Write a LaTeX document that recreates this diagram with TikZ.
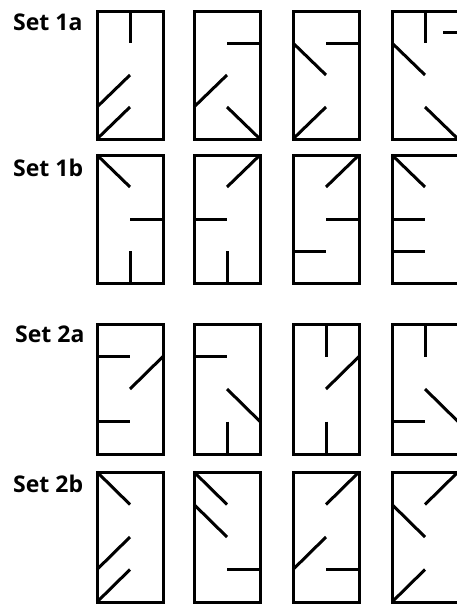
\documentclass[tikz,border=0pt]{standalone}
\usepackage{fontspec}
\setmainfont{Open Sans}
\usetikzlibrary{positioning}

% one floor plan: left edge, top edge, unit height, interior walls
\newcommand{\plan}[4]{%
  \begin{scope}[shift={(#1,#2)},x=33pt,y=-#3pt]
    \draw[wall] (0,0) rectangle (2,4);
    \foreach \xa/\ya/\xb/\yb in {#4} \draw[wall] (\xa,\ya) -- (\xb,\yb);
  \end{scope}}

\begin{document}
\begin{tikzpicture}[
  x=1pt,y=-1pt,
  wall/.style={draw=black,line width=3pt,line join=miter},
  setlabel/.style={font=\fontsize{23}{23}\selectfont\bfseries,anchor=base west,inner sep=0pt},
]
\useasboundingbox[fill=white] (0,0) rectangle (456,605);

\node[setlabel] (set1a) at (13,30) {Set 1a};
\node[setlabel] (set1b) at (13,176) {Set 1b};
\node[setlabel] (set2a) at (15,342) {Set 2a};
\node[setlabel] (set2b) at (13,492) {Set 2b};

% Set 1a
\plan{97}{11}{32}{1/0/1/1, 0/3/1/2, 0/4/1/3}
\plan{194}{11}{32}{1/1/2/1, 0/3/1/2, 1/3/2/4}
\plan{293}{11}{32}{1/1/2/1, 0/1/1/2, 0/4/1/3}
\plan{392}{11}{32}{1/0/1/1, 1.55/0.67/2/0.67, 0/1/1/2, 1/3/2/4}
% Set 1b
\plan{97}{155}{32}{0/0/1/1, 1/2/2/2, 1/3/1/4}
\plan{194}{155}{32}{1/1/2/0, 0/2/1/2, 1/3/1/4}
\plan{293}{155}{32}{1/1/2/0, 1/2/2/2, 0/3/1/3}
\plan{392}{155}{32}{0/0/1/1, 0/2/1/2, 0/3/1/3}
% Set 2a
\plan{97}{324}{32.5}{0/1/1/1, 1/2/2/1, 0/3/1/3}
\plan{194}{324}{32.5}{0/1/1/1, 1/2/2/3, 1/3/1/4}
\plan{293}{324}{32.5}{1/0/1/1, 1/2/2/1, 1/3/1/4}
\plan{392}{324}{32.5}{1/0/1/1, 1/2/2/3, 0/3/1/3}
% Set 2b
\plan{97}{472}{32.5}{0/0/1/1, 0/3/1/2, 0/4/1/3}
\plan{194}{472}{32.5}{0/0/1/1, 0/1/1/2, 1/3/2/3}
\plan{293}{472}{32.5}{1/1/2/0, 0/3/1/2, 1/3/2/3}
\plan{392}{472}{32.5}{1/1/2/0, 0/1/1/2, 0/4/1/3}
\end{tikzpicture}
\end{document}
